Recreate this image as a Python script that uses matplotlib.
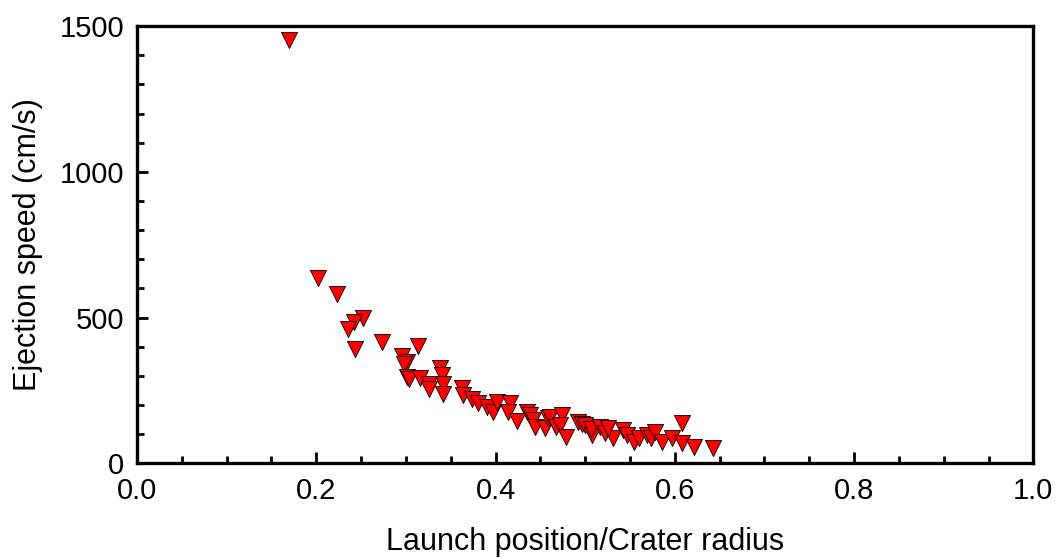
import matplotlib.pyplot as plt
from matplotlib.ticker import MultipleLocator

plt.rcParams["font.family"] = ["Liberation Sans", "DejaVu Sans"]

# launch position / crater radius
launch_pos = [0.170, 0.202, 0.223, 0.252, 0.242, 0.235, 0.243, 0.273, 0.314, 0.296,
              0.301, 0.298, 0.301, 0.303, 0.316, 0.338, 0.340, 0.326, 0.326, 0.341,
              0.341, 0.363, 0.364, 0.374, 0.380, 0.391, 0.397, 0.402, 0.416, 0.414,
              0.424, 0.435, 0.439, 0.442, 0.444, 0.455, 0.458, 0.461, 0.467, 0.474,
              0.472, 0.479, 0.492, 0.497, 0.500, 0.508, 0.507, 0.517, 0.522, 0.531,
              0.526, 0.542, 0.547, 0.554, 0.560, 0.569, 0.573, 0.578, 0.586, 0.597,
              0.608, 0.608, 0.621, 0.643]
# ejection speed (cm/s)
speed = [1452, 635, 580, 498, 484, 460, 393, 415, 402, 367,
         347, 340, 295, 288, 292, 325, 302, 271, 254, 271,
         237, 258, 233, 220, 206, 192, 175, 209, 206, 175,
         145, 175, 165, 148, 124, 122, 154, 158, 124, 165,
         130, 89, 141, 134, 130, 96, 117, 124, 103, 86,
         120, 113, 96, 72, 86, 96, 86, 106, 72, 86,
         137, 69, 55, 51]

fig, ax = plt.subplots(figsize=(10.62, 5.58), dpi=100)
fig.subplots_adjust(left=0.129, right=0.973, bottom=0.170, top=0.953)

ax.scatter(launch_pos, speed, marker="v", s=135, c="#ff0000",
           edgecolors="black", linewidths=0.6, zorder=3)

ax.set_xlim(0, 1.0)
ax.set_ylim(0, 1500)
ax.xaxis.set_major_locator(MultipleLocator(0.2))
ax.xaxis.set_minor_locator(MultipleLocator(0.05))
ax.yaxis.set_major_locator(MultipleLocator(500))
ax.yaxis.set_minor_locator(MultipleLocator(100))
ax.xaxis.set_major_formatter(lambda v, p: f"{v:.1f}")

ax.tick_params(which="both", direction="in", width=2, labelsize=21,
               top=False, right=False)
ax.tick_params(which="major", length=8)
ax.tick_params(axis="x", which="major", pad=10)
ax.tick_params(axis="y", which="major", pad=9)
ax.tick_params(which="minor", length=5)
for sp in ax.spines.values():
    sp.set_linewidth(2.4)

ax.set_xlabel("Launch position/Crater radius", fontsize=22, labelpad=16)
ax.set_ylabel("Ejection speed (cm/s)", fontsize=22, labelpad=12)

fig.savefig("out.png", dpi=100)
